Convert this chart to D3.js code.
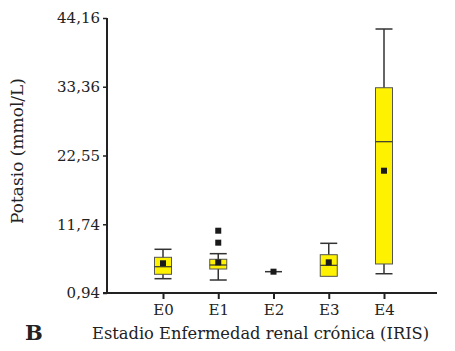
<!DOCTYPE html>
<html>
<head>
<meta charset="utf-8">
<script src="https://cdn.jsdelivr.net/npm/d3@7"></script>
<style>
  body { margin: 0; background: #fff; }
  text { font-family: "DejaVu Serif", serif; fill: #222; }
</style>
</head>
<body>
<svg id="chart" width="455" height="351"></svg>
<script>
// stages of chronic kidney disease (IRIS)
const stages = ["E0", "E1", "E2", "E3", "E4"];
const whiskerLow = [3.19, 2.98, 4.29, 3.56, 3.97];
const q1 = [3.88, 4.71, 4.29, 3.56, 5.5];
const median = [5.07, 5.34, 4.29, 5.29, 24.72];
const q3 = [6.55, 6.24, 4.29, 6.96, 33.2];
const whiskerHigh = [7.81, 7.12, 4.29, 8.75, 42.43];
const means = [5.61, 5.76, 4.29, 5.76, 20.16];
// outliers as [stage, value]
const outliers = [["E1", 8.85], ["E1", 10.73]];
const yTicks = [0.94, 11.74, 22.55, 33.36, 44.16];

const svg = d3.select("#chart");
const margin = { left: 107, top: 18, bottom: 293, right: 437 };

const x = d3.scalePoint().domain(stages).range([163, 384]);
const y = d3.scaleLinear().domain([0.94, 44.16]).range([margin.bottom, margin.top]);

const fmt = d => d.toFixed(2).replace(".", ",");

// y axis
const yAxis = svg.append("g")
  .attr("transform", `translate(${margin.left},0)`)
  .call(d3.axisLeft(y).tickValues(yTicks).tickFormat(fmt).tickSize(4).tickPadding(3));
yAxis.select(".domain").remove();
yAxis.selectAll(".tick line").attr("stroke", "#222").attr("stroke-width", 1.5);
yAxis.selectAll(".tick text").attr("font-size", 15).attr("font-family", "DejaVu Serif").attr("fill", "#222");
svg.append("line")
  .attr("x1", margin.left).attr("x2", margin.left)
  .attr("y1", margin.top).attr("y2", margin.bottom + 1)
  .attr("stroke", "#222").attr("stroke-width", 2);

// x axis
const xAxis = svg.append("g")
  .attr("transform", `translate(0,${margin.bottom})`)
  .call(d3.axisBottom(x).tickSize(6).tickPadding(5));
xAxis.select(".domain").remove();
xAxis.selectAll(".tick line").attr("stroke", "#222").attr("stroke-width", 2);
xAxis.selectAll(".tick text").attr("font-size", 15).attr("font-family", "DejaVu Serif").attr("fill", "#222");
svg.append("line")
  .attr("x1", margin.left - 4).attr("x2", margin.right)
  .attr("y1", margin.bottom).attr("y2", margin.bottom)
  .attr("stroke", "#222").attr("stroke-width", 2);

// boxes
const boxW = 17, capW = 17;
const g = svg.append("g");
stages.forEach((s, i) => {
  const cx = x(s);
  g.append("line")
    .attr("x1", cx).attr("x2", cx)
    .attr("y1", y(whiskerHigh[i])).attr("y2", y(whiskerLow[i]))
    .attr("stroke", "#333").attr("stroke-width", 1.5);
  if (whiskerHigh[i] > q3[i])
    g.append("line")
      .attr("x1", cx - capW / 2).attr("x2", cx + capW / 2)
      .attr("y1", y(whiskerHigh[i])).attr("y2", y(whiskerHigh[i]))
      .attr("stroke", "#333").attr("stroke-width", 1.5);
  if (whiskerLow[i] < q1[i] || q1[i] === q3[i])
    g.append("line")
      .attr("x1", cx - capW / 2).attr("x2", cx + capW / 2)
      .attr("y1", y(whiskerLow[i])).attr("y2", y(whiskerLow[i]))
      .attr("stroke", "#333").attr("stroke-width", 1.5);
  if (q3[i] > q1[i]) {
    g.append("rect")
      .attr("x", cx - boxW / 2).attr("width", boxW)
      .attr("y", y(q3[i])).attr("height", y(q1[i]) - y(q3[i]))
      .attr("fill", "#fff200").attr("stroke", "#555").attr("stroke-width", 1);
    g.append("line")
      .attr("x1", cx - boxW / 2).attr("x2", cx + boxW / 2)
      .attr("y1", y(median[i])).attr("y2", y(median[i]))
      .attr("stroke", "#333").attr("stroke-width", 1.2);
  }
  g.append("rect")
    .attr("x", cx - 3).attr("y", y(means[i]) - 3)
    .attr("width", 6).attr("height", 6)
    .attr("fill", "#1a1a1a");
});

g.selectAll(".outlier").data(outliers).join("rect")
  .attr("class", "outlier")
  .attr("x", d => x(d[0]) - 3).attr("y", d => y(d[1]) - 3)
  .attr("width", 6).attr("height", 6)
  .attr("fill", "#1a1a1a");

// titles
svg.append("text")
  .attr("transform", "translate(23,151) rotate(-90)")
  .attr("text-anchor", "middle")
  .attr("font-size", 17)
  .text("Potasio (mmol/L)");

svg.append("text")
  .attr("x", 92).attr("y", 339)
  .attr("font-size", 16.3)
  .text("Estadio Enfermedad renal crónica (IRIS)");

svg.append("text")
  .attr("x", 25).attr("y", 340)
  .attr("font-size", 21).attr("font-weight", "bold")
  .text("B");
</script>
</body>
</html>
